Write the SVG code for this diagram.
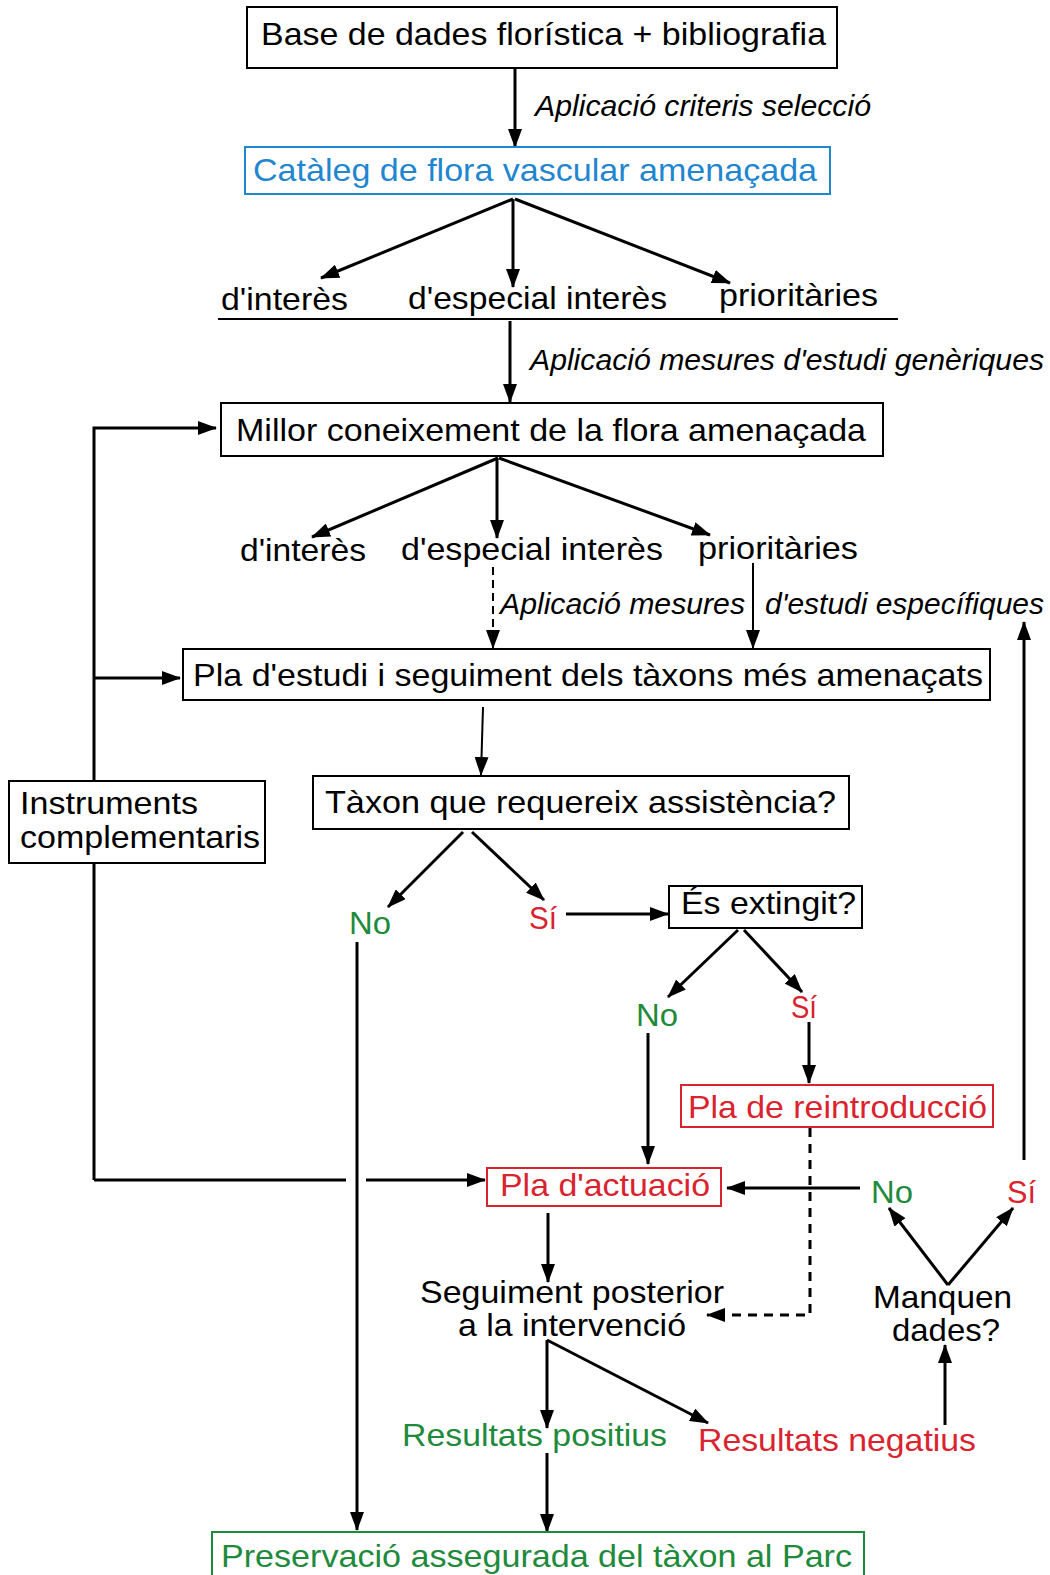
<svg xmlns="http://www.w3.org/2000/svg" width="1050" height="1575" viewBox="0 0 1050 1575">
<style>
text{font-family:"Liberation Sans",Arial,sans-serif;font-size:32px;fill:#000}
.it{font-style:italic;font-size:30px}
.bl{fill:#1f86cf}.rd{fill:#d9232e}.gr{fill:#1e8a3c}
.box{fill:#fff;stroke:#000;stroke-width:2}
.bbox{fill:#fff;stroke:#1f86cf;stroke-width:2}
.rbox{fill:#fff;stroke:#d9232e;stroke-width:2}
.gbox{fill:#fff;stroke:#1e8a3c;stroke-width:2}
.c{fill:none;stroke:#000;stroke-width:3}
.t{fill:none;stroke:#000;stroke-width:2}
.d{fill:none;stroke:#000;stroke-width:3;stroke-dasharray:9 7}
.d2{fill:none;stroke:#000;stroke-width:2;stroke-dasharray:8 5}
</style>
<defs>
<marker id="ah" markerWidth="19" markerHeight="14" refX="18" refY="7" orient="auto" markerUnits="userSpaceOnUse"><path d="M0,0 L19,7 L0,14 z" fill="#000"/></marker>
</defs>
<rect width="1050" height="1575" fill="#fff"/>
<g id="connectors">
<line class="c" x1="515" y1="68" x2="515" y2="147" marker-end="url(#ah)"/>
<line class="c" x1="513" y1="199" x2="321" y2="278" marker-end="url(#ah)"/>
<line class="c" x1="513" y1="199" x2="513" y2="287" marker-end="url(#ah)"/>
<line class="c" x1="515" y1="199" x2="730" y2="283" marker-end="url(#ah)"/>
<line class="t" x1="218" y1="319" x2="898" y2="319"/>
<line class="c" x1="510" y1="321" x2="510" y2="402" marker-end="url(#ah)"/>
<line class="c" x1="498" y1="458" x2="312" y2="537" marker-end="url(#ah)"/>
<line class="c" x1="497" y1="458" x2="497" y2="538" marker-end="url(#ah)"/>
<line class="c" x1="499" y1="458" x2="710" y2="535" marker-end="url(#ah)"/>
<line class="d2" x1="493" y1="567" x2="493" y2="648" marker-end="url(#ah)"/>
<line class="t" x1="753" y1="563" x2="753" y2="648" marker-end="url(#ah)"/>
<polyline class="c" points="94,1180 94,428 216,428" marker-end="url(#ah)"/>
<line class="c" x1="94" y1="678" x2="180" y2="678" marker-end="url(#ah)"/>
<line class="c" x1="94" y1="1180" x2="346" y2="1180"/>
<line class="c" x1="366" y1="1180" x2="485" y2="1180" marker-end="url(#ah)"/>
<line class="t" x1="483" y1="707" x2="481" y2="775" marker-end="url(#ah)"/>
<line class="c" x1="463" y1="832" x2="388" y2="907" marker-end="url(#ah)"/>
<line class="c" x1="472" y1="832" x2="544" y2="900" marker-end="url(#ah)"/>
<line class="c" x1="566" y1="914" x2="668" y2="914" marker-end="url(#ah)"/>
<line class="c" x1="738" y1="930" x2="668" y2="997" marker-end="url(#ah)"/>
<line class="c" x1="744" y1="930" x2="802" y2="992" marker-end="url(#ah)"/>
<line class="c" x1="809" y1="1022" x2="809" y2="1083" marker-end="url(#ah)"/>
<line class="c" x1="648" y1="1033" x2="648" y2="1164" marker-end="url(#ah)"/>
<line class="c" x1="357" y1="942" x2="357" y2="1530" marker-end="url(#ah)"/>
<polyline class="d" points="810,1128 810,1315 707,1315" marker-end="url(#ah)"/>
<line class="c" x1="860" y1="1188" x2="727" y2="1188" marker-end="url(#ah)"/>
<line class="c" x1="1024" y1="1160" x2="1024" y2="622" marker-end="url(#ah)"/>
<line class="c" x1="948" y1="1285" x2="889" y2="1208" marker-end="url(#ah)"/>
<line class="c" x1="948" y1="1285" x2="1013" y2="1208" marker-end="url(#ah)"/>
<line class="c" x1="945" y1="1425" x2="945" y2="1345" marker-end="url(#ah)"/>
<line class="c" x1="548" y1="1213" x2="548" y2="1282" marker-end="url(#ah)"/>
<line class="c" x1="547" y1="1340" x2="547" y2="1428" marker-end="url(#ah)"/>
<line class="c" x1="547" y1="1340" x2="708" y2="1423" marker-end="url(#ah)"/>
<line class="c" x1="547" y1="1453" x2="547" y2="1532" marker-end="url(#ah)"/>
</g>
<g id="label-criteris"><text class="it" x="535" y="116" textLength="336" lengthAdjust="spacingAndGlyphs">Aplicació criteris selecció</text></g>
<g id="label-generiques"><text class="it" x="530" y="370" textLength="514" lengthAdjust="spacingAndGlyphs">Aplicació mesures d'estudi genèriques</text></g>
<g id="label-especifiques1"><text class="it" x="500" y="614" textLength="245" lengthAdjust="spacingAndGlyphs">Aplicació mesures</text></g>
<g id="label-especifiques2"><text class="it" x="765" y="614" textLength="279" lengthAdjust="spacingAndGlyphs">d'estudi específiques</text></g>
<g id="n-base"><rect class="box" x="247" y="7" width="590" height="61"/><text x="261" y="45" textLength="565" lengthAdjust="spacingAndGlyphs">Base de dades florística + bibliografia</text></g>
<g id="n-cataleg"><rect class="bbox" x="245" y="147" width="585" height="47"/><text class="bl" x="253" y="181" textLength="564" lengthAdjust="spacingAndGlyphs">Catàleg de flora vascular amenaçada</text></g>
<g id="n-interes1"><text x="221" y="310" textLength="127" lengthAdjust="spacingAndGlyphs">d'interès</text></g>
<g id="n-especial1"><text x="408" y="309" textLength="259" lengthAdjust="spacingAndGlyphs">d'especial interès</text></g>
<g id="n-prioritaries1"><text x="719" y="306" textLength="159" lengthAdjust="spacingAndGlyphs">prioritàries</text></g>
<g id="n-millor"><rect class="box" x="221" y="403" width="662" height="53"/><text x="236" y="441" textLength="630" lengthAdjust="spacingAndGlyphs">Millor coneixement de la flora amenaçada</text></g>
<g id="n-interes2"><text x="240" y="561" textLength="126" lengthAdjust="spacingAndGlyphs">d'interès</text></g>
<g id="n-especial2"><text x="401" y="560" textLength="262" lengthAdjust="spacingAndGlyphs">d'especial interès</text></g>
<g id="n-prioritaries2"><text x="698" y="559" textLength="160" lengthAdjust="spacingAndGlyphs">prioritàries</text></g>
<g id="n-pla-estudi"><rect class="box" x="183" y="649" width="807" height="51"/><text x="193" y="686" textLength="790" lengthAdjust="spacingAndGlyphs">Pla d'estudi i seguiment dels tàxons més amenaçats</text></g>
<g id="n-instruments"><rect class="box" x="9" y="781" width="256" height="82"/><text x="20" y="814" textLength="178" lengthAdjust="spacingAndGlyphs">Instruments</text><text x="20" y="848" textLength="240" lengthAdjust="spacingAndGlyphs">complementaris</text></g>
<g id="n-taxon"><rect class="box" x="313" y="776" width="536" height="53"/><text x="325" y="813" textLength="511" lengthAdjust="spacingAndGlyphs">Tàxon que requereix assistència?</text></g>
<g id="n-no1"><text class="gr" x="349" y="934" textLength="42" lengthAdjust="spacingAndGlyphs">No</text></g>
<g id="n-si1"><text class="rd" x="529" y="929" textLength="28" lengthAdjust="spacingAndGlyphs">Sí</text></g>
<g id="n-extingit"><rect class="box" x="669" y="886" width="193" height="42"/><text x="681" y="914" textLength="175" lengthAdjust="spacingAndGlyphs">És extingit?</text></g>
<g id="n-no2"><text class="gr" x="636" y="1026" textLength="42" lengthAdjust="spacingAndGlyphs">No</text></g>
<g id="n-si2"><text class="rd" x="791" y="1018" textLength="26" lengthAdjust="spacingAndGlyphs">Sí</text></g>
<g id="n-reintroduccio"><rect class="rbox" x="681" y="1085" width="312" height="42"/><text class="rd" x="688" y="1118" textLength="299" lengthAdjust="spacingAndGlyphs">Pla de reintroducció</text></g>
<g id="n-actuacio"><rect class="rbox" x="487" y="1168" width="234" height="38"/><text class="rd" x="500" y="1196" textLength="210" lengthAdjust="spacingAndGlyphs">Pla d'actuació</text></g>
<g id="n-no3"><text class="gr" x="871" y="1203" textLength="42" lengthAdjust="spacingAndGlyphs">No</text></g>
<g id="n-si3"><text class="rd" x="1007" y="1203" textLength="29" lengthAdjust="spacingAndGlyphs">Sí</text></g>
<g id="n-seguiment"><text x="420" y="1303" textLength="304" lengthAdjust="spacingAndGlyphs">Seguiment posterior</text><text x="458" y="1336" textLength="228" lengthAdjust="spacingAndGlyphs">a la intervenció</text></g>
<g id="n-manquen"><text x="873" y="1308" textLength="139" lengthAdjust="spacingAndGlyphs">Manquen</text><text x="892" y="1341" textLength="108" lengthAdjust="spacingAndGlyphs">dades?</text></g>
<g id="n-positius"><text class="gr" x="402" y="1446" textLength="265" lengthAdjust="spacingAndGlyphs">Resultats positius</text></g>
<g id="n-negatius"><text class="rd" x="698" y="1451" textLength="278" lengthAdjust="spacingAndGlyphs">Resultats negatius</text></g>
<g id="n-preservacio"><rect class="gbox" x="212" y="1532" width="652" height="48"/><text class="gr" x="221" y="1567" textLength="631" lengthAdjust="spacingAndGlyphs">Preservació assegurada del tàxon al Parc</text></g>
</svg>
